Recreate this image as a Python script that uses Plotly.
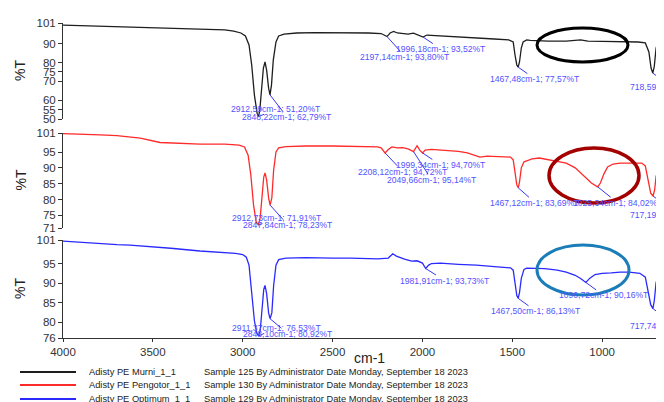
import plotly.graph_objects as go

# ---------------- data (wavenumber cm-1, %T) ----------------
murni_wn = [4000, 3800, 3600, 3400, 3200, 3100, 3050, 3010, 2985, 2965, 2950, 2935, 2920, 2912.59,
            2905, 2895, 2885, 2876, 2867, 2856, 2848.22, 2840, 2830, 2815, 2800, 2770, 2700, 2600,
            2500, 2400, 2300, 2230, 2197.14, 2180, 2160, 2140, 2080, 2050, 2020, 1996.18, 1975, 1900,
            1800, 1700, 1600, 1520, 1495, 1485, 1475, 1467.48, 1460, 1450, 1440, 1420, 1400, 1300,
            1200, 1120, 1080, 1000, 900, 800, 760, 740, 728, 718.59, 710, 700, 690, 670, 650]
murni_t = [99.9, 99.4, 98.9, 98.3, 97.8, 97.3, 96.7, 95.7, 94.1, 89.3, 78.7, 62.7, 53.1, 51.20,
           54.7, 66.4, 77.1, 80.3, 76.0, 66.4, 62.79, 68.0, 81.3, 90.9, 94.1, 95.1, 95.7, 95.9,
           95.9, 95.7, 95.7, 95.4, 93.80, 95.7, 96.5, 95.7, 95.1, 95.6, 94.6, 93.52, 94.6, 94.1,
           93.6, 93.0, 92.5, 92.0, 90.9, 84.0, 78.7, 77.57, 80.3, 87.7, 90.9, 92.0, 91.8, 91.4,
           91.4, 92.0, 91.4, 91.2, 91.2, 90.9, 90.4, 85.6, 77.1, 74.4, 78.0, 87.7, 90.4, 90.9, 90.9]

pengotor_wn = [4000, 3900, 3794, 3700, 3627, 3570, 3460, 3350, 3238, 3100, 3020, 2990, 2970, 2955,
               2940, 2925, 2912.73, 2903, 2893, 2883, 2876, 2867, 2856, 2847.84, 2838, 2828, 2815,
               2800, 2760, 2650, 2500, 2350, 2250, 2230, 2208.12, 2190, 2170, 2140, 2110, 2080,
               2049.66, 2030, 2015, 1999.34, 1985, 1950, 1900, 1800, 1750, 1700, 1680, 1640, 1560,
               1510, 1495, 1485, 1475, 1467.12, 1460, 1450, 1435, 1420, 1390, 1350, 1300, 1250,
               1200, 1150, 1100, 1060, 1025.34, 1010, 990, 970, 940, 900, 850, 780, 760, 745, 730,
               717.19, 708, 700, 690, 670, 650]
pengotor_t = [100.8, 100.7, 100.4, 100.2, 99.7, 99.4, 98.0, 97.7, 97.5, 97.5, 97.2, 96.6, 94.0, 87.8,
              78.3, 72.9, 71.91, 74.2, 81.4, 87.1, 88.4, 86.2, 80.5, 78.23, 80.5, 89.3, 95.0,
              96.3, 96.7, 96.9, 96.9, 96.8, 96.6, 96.3, 94.72, 95.8, 96.6, 96.3, 96.4, 96.0,
              95.14, 97.0, 95.6, 94.70, 95.6, 95.8, 95.6, 95.2, 94.7, 93.7, 93.4, 93.7, 93.4,
              93.4, 92.5, 88.7, 84.6, 83.69, 85.5, 90.0, 91.9, 92.2, 92.8, 93.1, 92.6, 92.2,
              91.5, 90.0, 87.4, 85.2, 84.02, 85.2, 88.1, 90.3, 91.2, 91.5, 91.5, 91.5, 90.6, 86.2, 82.0,
              81.1, 83.0, 87.4, 88.7, 89.3, 89.3]

optimum_wn = [4000, 3900, 3794, 3700, 3627, 3500, 3400, 3238, 3100, 3040, 3000, 2980, 2965, 2950,
              2935, 2922, 2911.37, 2903, 2893, 2883, 2876, 2867, 2856, 2848.10, 2838, 2828, 2815,
              2800, 2760, 2650, 2500, 2400, 2250, 2190, 2165, 2145, 2100, 2060, 2030, 2000, 1981.91,
              1965, 1950, 1900, 1800, 1700, 1600, 1510, 1495, 1485, 1475, 1467.50, 1460, 1450, 1435,
              1420, 1380, 1320, 1250, 1200, 1150, 1120, 1090.72, 1070, 1040, 1000, 950, 900, 850,
              790, 760, 745, 730, 717.74, 710, 700, 690, 650]
optimum_t = [100.7, 100.4, 100.0, 99.8, 99.7, 99.3, 98.9, 98.2, 97.9, 97.6, 97.3, 96.6, 94.6, 88.1,
             80.4, 77.3, 76.53, 77.8, 84.2, 88.4, 89.4, 87.3, 82.4, 80.92, 82.4, 89.4, 94.6,
             96.0, 96.4, 96.5, 96.4, 96.4, 96.2, 96.4, 97.5, 96.9, 96.1, 95.6, 95.7, 95.1, 93.73,
             94.6, 95.0, 95.1, 94.8, 94.6, 94.2, 93.9, 93.3, 90.2, 86.8, 86.13, 87.6, 91.2, 93.5,
             93.8, 93.8, 93.7, 93.3, 92.8, 92.0, 91.2, 90.16, 91.2, 92.2, 92.5, 92.6, 92.8, 92.8,
             92.5, 91.5, 88.1, 84.5, 83.5, 85.5, 90.2, 91.2, 91.5]

# peak labels: (wavenumber, %T, text)
murni_peaks = [(2912.59, 51.20, "2912,59cm-1; 51,20%T"), (2848.22, 62.79, "2848,22cm-1; 62,79%T"),
               (2197.14, 93.80, "2197,14cm-1; 93,80%T"), (1996.18, 93.52, "1996,18cm-1; 93,52%T"),
               (1467.48, 77.57, "1467,48cm-1; 77,57%T"), (718.59, 74.40, "718,59cm-1; 74,40%T")]
pengotor_peaks = [(2912.73, 71.91, "2912,73cm-1; 71,91%T"), (2847.84, 78.23, "2847,84cm-1; 78,23%T"),
                  (2208.12, 94.72, "2208,12cm-1; 94,72%T"), (2049.66, 95.14, "2049,66cm-1; 95,14%T"),
                  (1999.34, 94.70, "1999,34cm-1; 94,70%T"), (1467.12, 83.69, "1467,12cm-1; 83,69%T"),
                  (1025.34, 84.02, "1025,34cm-1; 84,02%T"), (717.19, 81.10, "717,19cm-1; 81,10%T")]
optimum_peaks = [(2911.37, 76.53, "2911,37cm-1; 76,53%T"), (2848.10, 80.92, "2848,10cm-1; 80,92%T"),
                 (1981.91, 93.73, "1981,91cm-1; 93,73%T"), (1467.50, 86.13, "1467,50cm-1; 86,13%T"),
                 (1090.72, 90.16, "1090,72cm-1; 90,16%T"), (717.74, 83.50, "717,74cm-1; 83,50%T")]

names = ["Adisty PE Murni_1_1", "Adisty PE Pengotor_1_1", "Adisty PE Optimum_1_1"]
infos = ["Sample 125 By Administrator Date Monday, September 18 2023",
         "Sample 130 By Administrator Date Monday, September 18 2023",
         "Sample 129 By Administrator Date Monday, September 18 2023"]
x_ticks = [4000, 3500, 3000, 2500, 2000, 1500, 1000, 500]
y1_ticks = [50, 55, 60, 70, 75, 80, 90, 101]
y2_ticks = [71, 75, 80, 85, 90, 95, 101]
y3_ticks = [76, 80, 85, 90, 95, 101]

# ---------------- styling / layout ----------------
OFF = 8            # page body margin offset
W, H = 656, 394
ML = 55
colors = ["#1e1e1e", "#ff2a2a", "#2a2aff"]
LBL = "#5252ff"
LEAD = "#3636f0"
FONT = "Liberation Sans, Arial, sans-serif"


def pxx(p):
    return (p - OFF - ML) / (W - ML)


def pxy(p):
    return 1 - (p - OFF) / H


fig = go.Figure()
series = [(murni_wn, murni_t), (pengotor_wn, pengotor_t), (optimum_wn, optimum_t)]
for i, (xs, ys) in enumerate(series):
    ax_id = "" if i == 0 else str(i + 1)
    fig.add_trace(go.Scatter(x=xs, y=ys, mode="lines", xaxis="x" + ax_id, yaxis="y" + ax_id,
                             line=dict(color=colors[i], width=1.3), showlegend=False,
                             hoverinfo="skip"))

domains = [(23, 119), (133, 228), (240, 338)]
ranges = [(50, 101), (71, 101), (76, 101)]
yticks = [y1_ticks, y2_ticks, y3_ticks]
axfont = dict(family=FONT, size=11.5, color="#333333")
for i in range(3):
    sfx = "" if i == 0 else str(i + 1)
    top, bot = domains[i]
    fig.layout["yaxis" + sfx] = dict(
        domain=[pxy(bot), pxy(top)], range=list(ranges[i]), tickvals=yticks[i],
        ticktext=[str(v) for v in yticks[i]], showline=True, linecolor="#333333",
        linewidth=1, ticks="outside", ticklen=4, tickcolor="#333333", showgrid=False,
        zeroline=False, tickfont=axfont, anchor="x" + sfx, fixedrange=True, automargin=False)
    fig.layout["xaxis" + sfx] = dict(
        domain=[0, 1], range=[4000, 656], anchor="y" + sfx, showgrid=False, zeroline=False,
        showline=(i == 2), linecolor="#333333", linewidth=1,
        ticks="outside" if i == 2 else "", ticklen=3, tickcolor="#333333",
        tickvals=x_ticks, showticklabels=(i == 2), tickfont=axfont, automargin=False,
        matches=None if i == 0 else "x")

annotations = []
shapes = []
peak_sets = [murni_peaks, pengotor_peaks, optimum_peaks]
LFS = 8.6
# pixel offsets (text centre minus peak) for the labels that fit in view
offsets = [
    [(18, -8), (17, 22), (18, 20), (18, 12), (17, 12), None],
    [(19, -7), (18, 20), (18, 19), (18, 28), (18, 12), (17, 15), (20, 16), None],
    [(18, -8), (18, 15), (19, 12), (18, 13), (18, 13), None],
]
edge_label_y = [87, 215, 326]
for i, peaks in enumerate(peak_sets):
    sfx = "" if i == 0 else str(i + 1)
    for (wn, t, txt), off in zip(peaks, offsets[i]):
        if off is not None:
            annotations.append(dict(x=wn, y=t, xref="x" + sfx, yref="y" + sfx, text=txt,
                                    showarrow=True, arrowhead=0, arrowwidth=1, arrowcolor=LEAD,
                                    ax=off[0], ay=off[1], font=dict(family=FONT, size=LFS, color=LBL),
                                    borderpad=0))
        else:
            annotations.append(dict(x=pxx(628), y=pxy(edge_label_y[i]), xref="paper", yref="paper",
                                    text=txt, showarrow=False, xanchor="left", yanchor="middle",
                                    font=dict(family=FONT, size=LFS, color=LBL)))
            shapes.append(dict(type="line", xref="x" + sfx, yref="y" + sfx, xsizemode="pixel",
                               ysizemode="pixel", xanchor=wn, yanchor=t, x0=0, y0=0, x1=22, y1=-16,
                               line=dict(color=LEAD, width=1)))

# %T titles
for top, bot in domains:
    annotations.append(dict(x=pxx(20), y=pxy((top + bot) / 2), xref="paper", yref="paper", text="%T",
                            showarrow=False, textangle=-90, xanchor="center", yanchor="middle",
                            font=dict(family=FONT, size=14, color="#222222")))
# x title
annotations.append(dict(x=pxx(369), y=pxy(358), xref="paper", yref="paper", text="cm-1",
                        showarrow=False, xanchor="center", yanchor="middle",
                        font=dict(family=FONT, size=14, color="#222222")))

# legend rows
leg_y = [372, 385, 399]
for i in range(3):
    shapes.append(dict(type="line", xref="paper", yref="paper", x0=pxx(20), x1=pxx(76),
                       y0=pxy(leg_y[i]), y1=pxy(leg_y[i]), line=dict(color=colors[i], width=2)))
    annotations.append(dict(x=pxx(87), y=pxy(leg_y[i]), xref="paper", yref="paper", text=names[i],
                            showarrow=False, xanchor="left", yanchor="middle",
                            font=dict(family=FONT, size=9.3, color="#222222")))
    annotations.append(dict(x=pxx(202), y=pxy(leg_y[i]), xref="paper", yref="paper", text=infos[i],
                            showarrow=False, xanchor="left", yanchor="middle",
                            font=dict(family=FONT, size=9.3, color="#222222")))

# highlight ellipses
ellipses = [((537, 28, 628, 62), "#000000", 3), ((549, 148, 639, 203), "#a30000", 3.5),
            ((537, 245, 629, 295), "#1b7db8", 3)]
for (x0, y0, x1, y1), c, w in ellipses:
    shapes.append(dict(type="circle", xref="paper", yref="paper", x0=pxx(x0), x1=pxx(x1),
                       y0=pxy(y1), y1=pxy(y0), line=dict(color=c, width=w)))

fig.update_layout(width=W, height=H, margin=dict(l=ML, r=0, t=0, b=0, autoexpand=False),
                  paper_bgcolor="white", plot_bgcolor="white",
                  annotations=annotations, shapes=shapes, showlegend=False,
                  font=dict(family=FONT))

fig.write_html("out.html")
